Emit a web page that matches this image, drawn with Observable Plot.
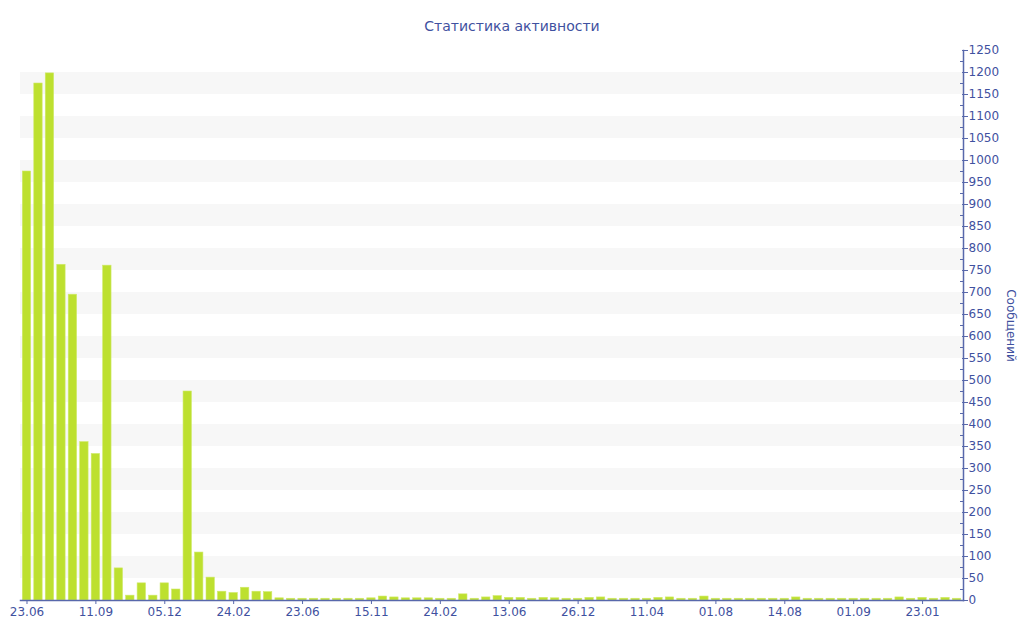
<!DOCTYPE html>
<html>
<head>
<meta charset="utf-8">
<script src="https://cdn.jsdelivr.net/npm/d3@7"></script>
<script src="https://cdn.jsdelivr.net/npm/@observablehq/plot@0.6"></script>
<style>
  html, body { margin: 0; padding: 0; background: #fff; }
  #title { height: 40px; line-height: 52px; text-align: center; font-family: "DejaVu Sans", sans-serif; font-size: 14px; color: #3f51a0; }
  #chart svg { display: block; }
</style>
</head>
<body>
<div id="title">Статистика активности</div>
<div id="chart"></div>
<script>
// Message counts per period
const values = [
  975, 1175, 1198, 763, 695, 360, 333, 761, 73, 11,
  39, 11, 39, 25, 475, 109, 52, 20, 17, 29,
  20, 19, 5, 4, 4, 4, 4, 4, 4, 4,
  5, 9, 7, 5, 5, 5, 4, 4, 14, 4,
  7, 10, 6, 6, 4, 6, 5, 4, 4, 6,
  7, 4, 4, 4, 4, 6, 7, 4, 4, 9,
  4, 4, 4, 4, 4, 4, 4, 7, 4, 4,
  4, 4, 4, 4, 4, 4, 7, 4, 6, 4,
  6, 4
];
// Labels shown under every 6th bar
const tickLabels = ["23.06", "11.09", "05.12", "24.02", "23.06", "15.11", "24.02", "13.06", "26.12", "11.04", "01.08", "14.08", "01.09", "23.01"];
const tickEvery = 6;
const yMax = 1250;
const yStep = 50;
const yTitle = "Сообщений";

const blue = "#3f51a0";
const axisBlue = "#5868ab";
const barColor = "#bde02f";

const data = values.map((v, i) => ({i, v}));
const idx = d3.range(values.length);
const tickIdx = tickLabels.map((_, k) => k * tickEvery);
const stripes = d3.range(yStep, yMax, 2 * yStep); // 50,150,...,1150

const chart = Plot.plot({
  width: 1024,
  height: 600,
  marginLeft: 20,
  marginRight: 61,
  marginTop: 10,
  marginBottom: 40,
  style: { fontFamily: "DejaVu Sans, sans-serif", fontSize: "12px", color: blue, background: "#fff" },
  x: { type: "band", domain: idx, paddingInner: 0.27, paddingOuter: 0.2, axis: null },
  y: { domain: [0, yMax], axis: null },
  marks: [
    Plot.rect(stripes, { y1: d => d, y2: d => d + yStep, fill: "#f7f7f7" }),
    Plot.barY(data, { x: "i", y: "v", fill: barColor, stroke: "#cfe96a", strokeWidth: 0.6 }),
    Plot.frame({ anchor: "bottom", stroke: axisBlue, strokeWidth: 1.5 }),
    Plot.frame({ anchor: "right", stroke: axisBlue, strokeWidth: 1.5 }),
    Plot.axisX({ ticks: tickIdx, tickFormat: i => tickLabels[i / tickEvery], tickSize: 4, tickPadding: 3, stroke: axisBlue, fill: blue, fontSize: 12, label: null }),
    Plot.axisY({ anchor: "right", ticks: d3.range(0, yMax + 1, yStep), tickFormat: d => String(d), tickSize: 4, tickPadding: 1, stroke: axisBlue, fill: blue, fontSize: 12, label: null }),
    Plot.axisY({ anchor: "right", ticks: d3.range(0, yMax + 1, yStep), tickSize: -2, tickFormat: () => "", stroke: axisBlue, label: null }),
    Plot.axisY({ anchor: "right", ticks: d3.range(yStep / 2, yMax, yStep), tickSize: -4, tickFormat: () => "", stroke: axisBlue, label: null }),
    Plot.text([yTitle], { frameAnchor: "right", textAnchor: "middle", rotate: 90, dx: 47, fill: blue, fontSize: 12 })
  ]
});
document.getElementById("chart").appendChild(chart);
</script>
</body>
</html>
